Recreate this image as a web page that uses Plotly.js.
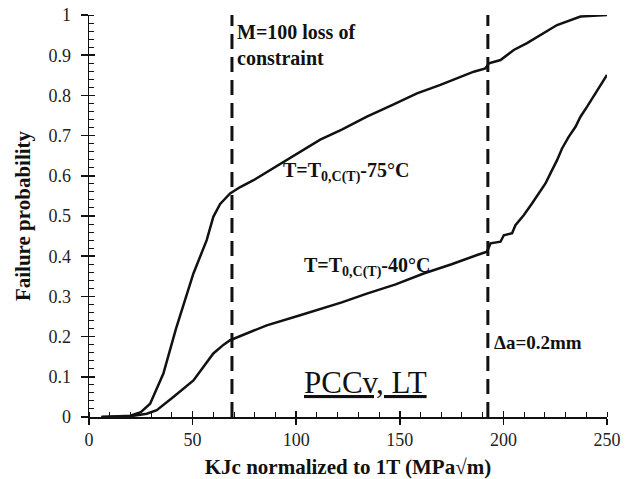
<!DOCTYPE html>
<html>
<head>
<meta charset="utf-8">
<script src="https://cdn.plot.ly/plotly-3.0.1.min.js"></script>
<style>html,body{margin:0;padding:0;background:#fff;}#chart{width:630px;height:479px;}</style>
</head>
<body>
<div id="chart"></div>
<script>
// Curve T = T0,C(T) - 75°C
var kjc75 = [6, 20, 25, 29.5, 35.9, 42, 50.4, 56.8, 60, 63.3, 68.1, 73, 79.4, 86, 93.9, 101.9, 111.6, 122, 134.1, 146, 158.3, 169.6, 178, 185.7, 191.3, 193, 198.6, 205, 211.4, 217.9, 225.9, 237.2, 250];
var prob75 = [0, 0.003, 0.012, 0.033, 0.108, 0.22, 0.357, 0.44, 0.498, 0.53, 0.556, 0.572, 0.589, 0.61, 0.635, 0.66, 0.69, 0.715, 0.747, 0.775, 0.805, 0.826, 0.843, 0.859, 0.867, 0.88, 0.888, 0.913, 0.93, 0.95, 0.975, 0.996, 1.0];

// Curve T = T0,C(T) - 40°C
var kjc40 = [6, 20, 27.9, 32.7, 40.7, 50.4, 60, 65, 68.1, 75, 85.8, 101.9, 110, 122, 134.1, 148, 161.5, 175, 187.3, 192.1, 193.8, 198.6, 200.2, 204.2, 205.8, 209.8, 213.8, 217.9, 220.3, 222.7, 225.9, 228.3, 231.5, 234.8, 237.2, 240.4, 243.6, 246, 250];
var prob40 = [0, 0.002, 0.008, 0.017, 0.05, 0.091, 0.158, 0.18, 0.191, 0.205, 0.228, 0.253, 0.266, 0.285, 0.307, 0.33, 0.357, 0.38, 0.403, 0.411, 0.432, 0.436, 0.452, 0.457, 0.477, 0.502, 0.531, 0.564, 0.581, 0.606, 0.639, 0.668, 0.697, 0.722, 0.747, 0.772, 0.797, 0.818, 0.851];

// Reference lines (M=100 loss of constraint, Δa=0.2mm)
var refLinesX = [69, 192.5];
var refLinesY = [0, 1];

var xTickVals = [0, 50, 100, 150, 200, 250];
var yTickVals = [0, 0.1, 0.2, 0.3, 0.4, 0.5, 0.6, 0.7, 0.8, 0.9, 1];
var yTickText = ['0', '0.1', '0.2', '0.3', '0.4', '0.5', '0.6', '0.7', '0.8', '0.9', '1'];

var FONT = '"Liberation Serif", "DejaVu Serif", serif';
var INK = '#111';

var traces = [
  {x: kjc75, y: prob75, mode: 'lines', line: {color: INK, width: 2.5}, hoverinfo: 'skip', showlegend: false},
  {x: kjc40, y: prob40, mode: 'lines', line: {color: INK, width: 2.5}, hoverinfo: 'skip', showlegend: false}
];
refLinesX.forEach(function (xv) {
  traces.push({x: [xv, xv], y: refLinesY, mode: 'lines', line: {color: INK, width: 3, dash: '15px,8px'}, hoverinfo: 'skip', showlegend: false});
});
// helper trace for the overlay axes that draw the inner half of major ticks
traces.push({x: [xTickVals[0]], y: [yTickVals[0]], xaxis: 'x2', yaxis: 'y2', mode: 'markers', marker: {opacity: 0}, hoverinfo: 'skip', showlegend: false});

var layout = {
  width: 630, height: 479,
  margin: {l: 89, r: 23, t: 15, b: 62},
  paper_bgcolor: '#fff', plot_bgcolor: '#fff',
  font: {family: FONT, color: INK},
  xaxis: {
    range: [0, 250], tickvals: xTickVals, ticks: 'outside', ticklen: 6, tickwidth: 1.5, tickcolor: INK,
    showline: true, linecolor: INK, linewidth: 1.5, showgrid: false, zeroline: false,
    minor: {dtick: 10, ticks: 'inside', ticklen: 5, tickwidth: 1, tickcolor: INK, showgrid: false},
    tickfont: {family: FONT, size: 18, color: '#222'},
    title: {text: '<b>KJc normalized to 1T (MPa√m)</b>', font: {family: FONT, size: 21, color: INK}, standoff: 14}
  },
  yaxis: {
    range: [0, 1], tickvals: yTickVals, ticktext: yTickText, ticks: 'outside', ticklen: 7, tickwidth: 1.5, tickcolor: INK,
    showline: true, linecolor: INK, linewidth: 1.5, showgrid: false, zeroline: false,
    minor: {dtick: 0.02, ticks: 'inside', ticklen: 5, tickwidth: 1, tickcolor: INK, showgrid: false},
    tickfont: {family: FONT, size: 18, color: '#222'}, ticklabelstandoff: 6,
    title: {text: '<b>Failure probability</b>', font: {family: FONT, size: 21, color: INK}, standoff: 12}
  },
  xaxis2: {overlaying: 'x', anchor: 'y2', range: [0, 250], tickvals: xTickVals, ticks: 'inside', ticklen: 6, tickwidth: 1.5, tickcolor: INK,
    showticklabels: false, showline: false, showgrid: false, zeroline: false, side: 'bottom'},
  yaxis2: {overlaying: 'y', anchor: 'x2', range: [0, 1], tickvals: yTickVals, ticks: 'inside', ticklen: 6, tickwidth: 1.5, tickcolor: INK,
    showticklabels: false, showline: false, showgrid: false, zeroline: false, side: 'left'},
  annotations: [
    {x: 70.5, y: 0.925, xref: 'x', yref: 'y', xanchor: 'left', yanchor: 'middle', align: 'left', showarrow: false,
     text: '<b>M=100 loss of<br>constraint</b>', font: {family: FONT, size: 20, color: INK}},
    {x: 92.8, y: 0.609, xref: 'x', yref: 'y', xanchor: 'left', yanchor: 'middle', showarrow: false,
     text: '<b>T=T<sub>0,C(T)</sub>-75°C</b>', font: {family: FONT, size: 20, color: INK}},
    {x: 102.7, y: 0.372, xref: 'x', yref: 'y', xanchor: 'left', yanchor: 'middle', showarrow: false,
     text: '<b>T=T<sub>0,C(T)</sub>-40°C</b>', font: {family: FONT, size: 20, color: INK}},
    {x: 194.5, y: 0.186, xref: 'x', yref: 'y', xanchor: 'left', yanchor: 'middle', showarrow: false,
     text: '<b>Δa=0.2mm</b>', font: {family: FONT, size: 19, color: INK}},
    {x: 103.0, y: 0.086, xref: 'x', yref: 'y', xanchor: 'left', yanchor: 'middle', showarrow: false,
     text: '<u>PCCv, LT</u>', font: {family: FONT, size: 31, color: INK}}
  ]
};

Plotly.newPlot('chart', traces, layout, {displayModeBar: false, staticPlot: true});
</script>
</body>
</html>
